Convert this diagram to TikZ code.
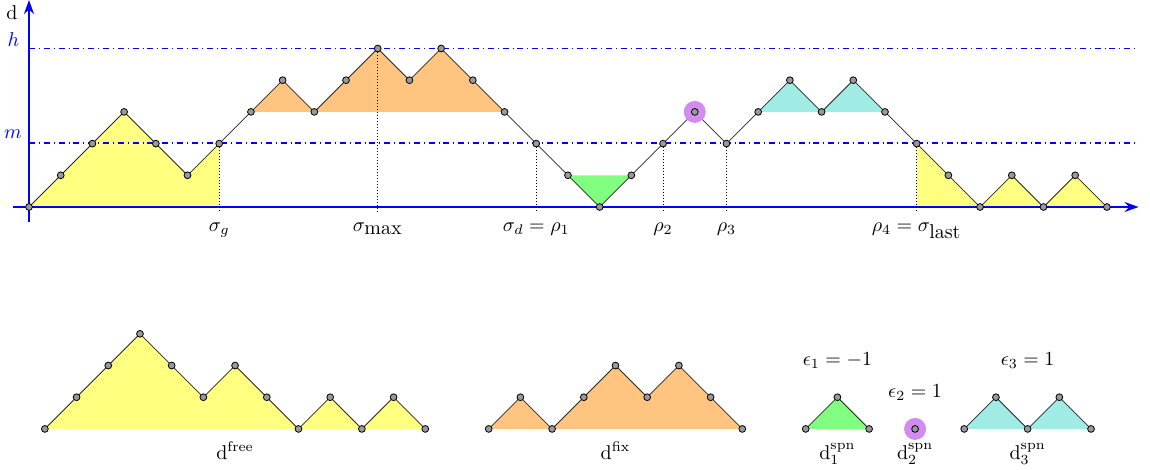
\documentclass[tikz,border=0pt]{standalone}
\usepackage{amsmath,amssymb}
\usetikzlibrary{positioning, arrows.meta, calc}

\definecolor{freeyellow}{RGB}{255,255,128}
\definecolor{fixorange}{RGB}{255,196,128}
\definecolor{spngreen}{RGB}{128,255,128}
\definecolor{spncyan}{RGB}{160,236,228}
\definecolor{spnviolet}{RGB}{210,140,240}
\definecolor{levelblue}{RGB}{0,0,255}

\tikzset{
    dot/.style={circle, draw=black, fill=gray!80, line width=0.4pt, inner sep=0pt, minimum size=3.4pt},
    spnmark/.style={circle, fill=spnviolet, inner sep=0pt, minimum size=11pt},
    axis/.style={blue, line width=1.1pt, -{Stealth[length=7pt, width=5pt]}},
    level/.style={levelblue, dash dot, line width=0.6pt},
    proj/.style={densely dotted, line width=0.5pt},
    walk/.style={line width=0.4pt, black!85},
}

\begin{document}
\begin{tikzpicture}[x=15.85pt, y=15.85pt]
    \useasboundingbox (-0.915,-8.265) rectangle (35.36,6.53);

    % the path d
    \foreach \h [count=\i from 0] in {0,1,2,3,2,1,2,3,4,3,4,5,4,5,4,3,2,1,0,1,2,3,2,3,4,3,4,3,2,1,0,1,0,1,0}
        \coordinate (p\i) at (\i,\h);

    % coloured parts
    \fill[freeyellow] (p0) foreach \i in {1,...,6}{-- (p\i)} |- (p0);
    \fill[freeyellow] (p28) foreach \i in {29,...,34}{-- (p\i)} -| (p28);
    \fill[fixorange] (p7) foreach \i in {8,...,15}{-- (p\i)} -- cycle;
    \fill[spngreen] (p17) -- (p18) -- (p19) -- cycle;
    \fill[spncyan] (p23) foreach \i in {24,...,27}{-- (p\i)} -- cycle;

    % levels h and m
    \draw[level] (0,5) -- (35,5);
    \draw[level] (0,2.02) -- (35,2.02);
    \node[blue, anchor=south east, inner sep=0pt] (hlab) at (-0.3,5.05) {$h$};
    \node[blue, anchor=south east, inner sep=0pt] (mlab) at (-0.22,2.15) {$m$};

    % axes
    \draw[axis] (-0.5,0) -- (35,0);
    \draw[axis] (0,-0.47) -- (0,6.53);
    \node (dlab) at (-0.54,6.12) {d};

    \draw[walk] (p0) foreach \i in {1,...,34}{-- (p\i)};

    \node[spnmark] (spn) at (p21) {};
    \foreach \i in {0,...,34}
        \node[dot] (v\i) at (p\i) {};

    % marked times
    \foreach \i in {6,11,16,20,22,28}
        \draw[proj] (v\i) -- (\i,-0.2);
    \node[anchor=base] (sg) at (6,-0.78) {$\sigma_g$};
    \node[anchor=base] (smax) at (11,-0.78) {$\sigma_{\mbox{max}}$};
    \node[anchor=base] (rho1) at (16,-0.78) {$\sigma_d = \rho_1$};
    \node[anchor=base] (rho2) at (20,-0.78) {$\rho_2$};
    \node[anchor=base] (rho3) at (22,-0.78) {$\rho_3$};
    \node[anchor=base] (rho4) at (28,-0.78) {$\rho_4 = \sigma_{\mbox{last}}$};

    % d free
    \foreach \h [count=\i from 0] in {0,1,2,3,2,1,2,1,0,1,0,1,0}
        \coordinate (f\i) at (0.5+\i,-7+\h);
    \fill[freeyellow] (f0) foreach \i in {1,...,12}{-- (f\i)} -- cycle;
    \draw[walk] (f0) foreach \i in {1,...,12}{-- (f\i)};
    \foreach \i in {0,...,12}
        \node[dot] (fd\i) at (f\i) {};
    \node[anchor=base] (dfree) at (6.5,-7.95) {d$^{\text{free}}$};

    % d fix
    \foreach \h [count=\i from 0] in {0,1,0,1,2,1,2,1,0}
        \coordinate (x\i) at (14.5+\i,-7+\h);
    \fill[fixorange] (x0) foreach \i in {1,...,8}{-- (x\i)} -- cycle;
    \draw[walk] (x0) foreach \i in {1,...,8}{-- (x\i)};
    \foreach \i in {0,...,8}
        \node[dot] (xd\i) at (x\i) {};
    \node[anchor=base] (dfix) at (18.5,-7.95) {d$^{\text{fix}}$};

    % spine parts
    \coordinate (a0) at (24.5,-7);
    \coordinate (a1) at (25.5,-6);
    \coordinate (a2) at (26.5,-7);
    \fill[spngreen] (a0) -- (a1) -- (a2) -- cycle;
    \draw[walk] (a0) -- (a1) -- (a2);
    \foreach \i in {0,1,2}
        \node[dot] (ad\i) at (a\i) {};
    \node[anchor=base] (eps1) at (25.5,-5) {$\epsilon_1 = -1$};
    \node[anchor=base] (dspn1) at (25.5,-7.95) {d$_1^{\text{spn}}$};

    \node[spnmark] (b0) at (27.95,-7) {};
    \node[dot] (bd0) at (b0) {};
    \node[anchor=base] (eps2) at (27.95,-6) {$\epsilon_2 = 1$};
    \node[anchor=base] (dspn2) at (27.95,-7.95) {d$_2^{\text{spn}}$};

    \foreach \h [count=\i from 0] in {0,1,0,1,0}
        \coordinate (c\i) at (29.5+\i,-7+\h);
    \fill[spncyan] (c0) foreach \i in {1,...,4}{-- (c\i)} -- cycle;
    \draw[walk] (c0) foreach \i in {1,...,4}{-- (c\i)};
    \foreach \i in {0,...,4}
        \node[dot] (cd\i) at (c\i) {};
    \node[anchor=base] (eps3) at (31.5,-5) {$\epsilon_3 = 1$};
    \node[anchor=base] (dspn3) at (31.5,-7.95) {d$_3^{\text{spn}}$};

\end{tikzpicture}
\end{document}
